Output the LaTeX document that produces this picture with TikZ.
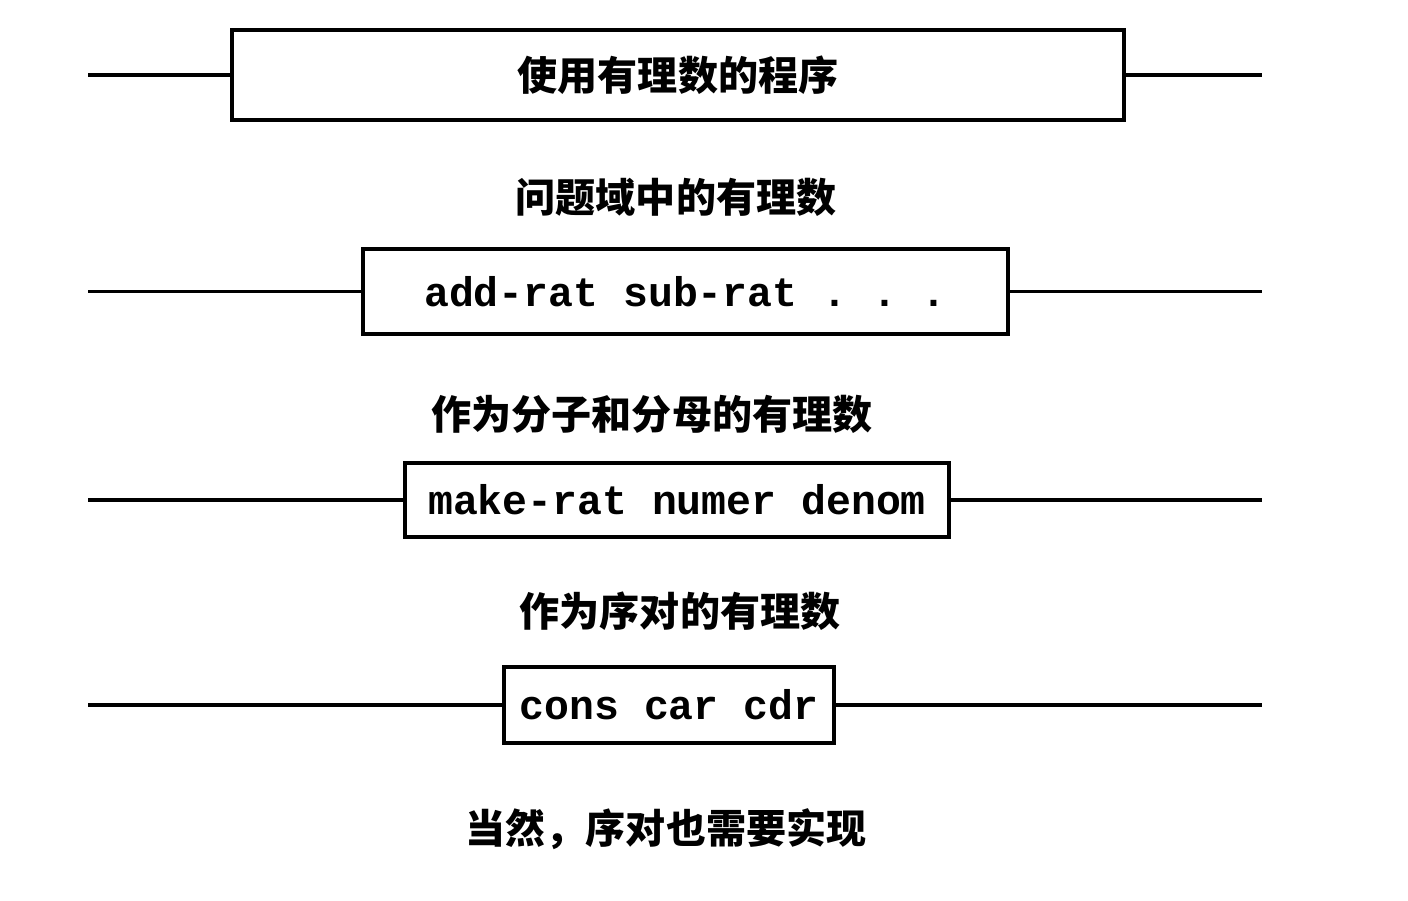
\documentclass[tikz,border=0pt]{standalone}
\usepackage{fontspec}
\setmonofont{Liberation Mono}
\newfontfamily\cjk{Noto Sans CJK SC}
\usetikzlibrary{positioning}

\begin{document}
\begin{tikzpicture}[
  every node/.style={inner sep=0pt},
  layerbox/.style={draw,line width=0.9pt,font=\fontsize{11.8}{14}\selectfont\ttfamily\bfseries},
  layertext/.style={font=\fontsize{11.4}{14}\selectfont\cjk\bfseries},
  barrier/.style={line width=0.9pt}]
\useasboundingbox (0,0) rectangle (14.08,9);
\node[layerbox,minimum width=8.92cm,minimum height=0.9cm,layertext] (prog) at (6.78,8.25) {使用有理数的程序};
\node[layertext] (domain) at (6.76,7.03) {问题域中的有理数};
\node[layerbox,minimum width=6.45cm,minimum height=0.85cm] (ops) at (6.855,6.085) {add-rat sub-rat . . .};
\node[layertext] (fraction) at (6.52,4.86) {作为分子和分母的有理数};
\node[layerbox,minimum width=5.44cm,minimum height=0.74cm] (ctor) at (6.77,4.0) {make-rat numer denom};
\node[layertext] (pairs) at (6.80,2.89) {作为序对的有理数};
\node[layerbox,minimum width=3.30cm,minimum height=0.76cm] (cons) at (6.69,1.95) {cons car cdr};
\node[layertext] (impl) at (6.66,0.71) {当然，序对也需要实现};
\foreach \b in {prog,ops,ctor,cons} {
  \coordinate (\b-l) at (0.88,0 |- \b.west);
  \coordinate (\b-r) at (12.62,0 |- \b.east);
  \draw[barrier] (\b-l) -- (\b.west);
  \draw[barrier] (\b.east) -- (\b-r);
}
\end{tikzpicture}
\end{document}
